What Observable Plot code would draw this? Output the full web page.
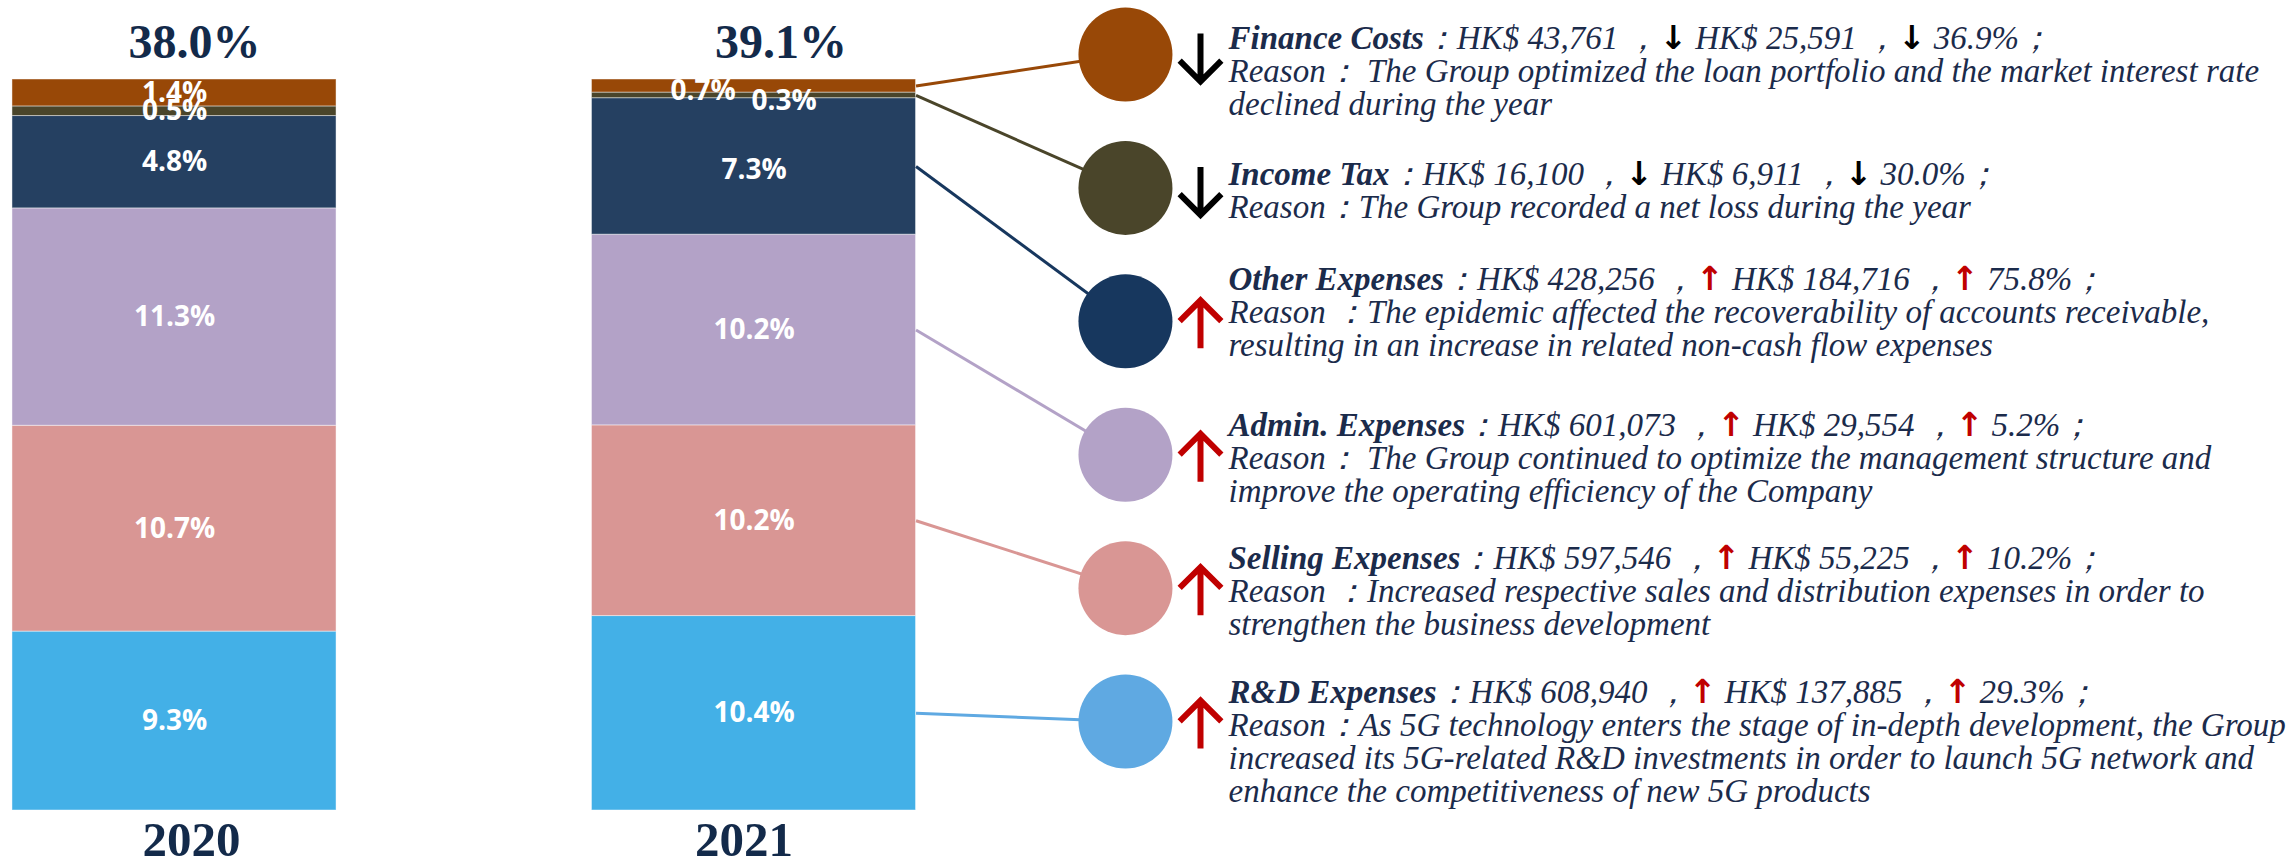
<!DOCTYPE html>
<html>
<head>
<meta charset="utf-8">
<script src="https://cdn.jsdelivr.net/npm/d3@7"></script>
<script src="https://cdn.jsdelivr.net/npm/@observablehq/plot@0.6"></script>
<style>
  html, body { margin: 0; padding: 0; background: #ffffff; }
  #chart { width: 2292px; height: 863px; overflow: hidden; }
  #chart svg text { white-space: pre; }
</style>
</head>
<body>
<div id="chart"></div>
<script>
// ---------------- DATA ----------------
const years = ["2020", "2021"];
const yearTotals = ["38.0%", "39.1%"];
// stacked from bottom to top
const categories = ["R&D Expenses", "Selling Expenses", "Admin. Expenses", "Other Expenses", "Income Tax", "Finance Costs"];
const share2020 = [9.3, 10.7, 11.3, 4.8, 0.5, 1.4];
const share2021 = [10.4, 10.2, 10.2, 7.3, 0.3, 0.7];

// annotation rows, top to bottom
const annotCategories = ["Finance Costs", "Income Tax", "Other Expenses", "Admin. Expenses", "Selling Expenses", "R&D Expenses"];
const amount2021 = ["43,761", "16,100", "428,256", "601,073", "597,546", "608,940"];
const changeAmount = ["25,591", "6,911", "184,716", "29,554", "55,225", "137,885"];
const changePct = ["36.9%", "30.0%", "75.8%", "5.2%", "10.2%", "29.3%"];
const direction = ["down", "down", "up", "up", "up", "up"];
const reasons = [
  "Reason： The Group optimized the loan portfolio and the market interest rate\ndeclined during the year",
  "Reason：The Group recorded a net loss during the year",
  "Reason ：The epidemic affected the recoverability of accounts receivable,\nresulting in an increase in related non-cash flow expenses",
  "Reason： The Group continued to optimize the management structure and\nimprove the operating efficiency of the Company",
  "Reason ：Increased respective sales and distribution expenses in order to\nstrengthen the business development",
  "Reason：As 5G technology enters the stage of in-depth development, the Group\nincreased its 5G-related R&D investments in order to launch 5G network and\nenhance the competitiveness of new 5G products"
];

// ---------------- STYLE ----------------
const barColors = {"R&D Expenses": "#43b0e7", "Selling Expenses": "#d99694", "Admin. Expenses": "#b3a2c7",
  "Other Expenses": "#254061", "Income Tax": "#4a452a", "Finance Costs": "#984807"};
const dotColors = {"R&D Expenses": "#5fa9e2", "Selling Expenses": "#d99694", "Admin. Expenses": "#b3a2c7",
  "Other Expenses": "#17375e", "Income Tax": "#4a452a", "Finance Costs": "#984807"};
const lineColors = {"R&D Expenses": "#5fa9e2", "Selling Expenses": "#d99694", "Admin. Expenses": "#b3a2c7",
  "Other Expenses": "#17375e", "Income Tax": "#4a452a", "Finance Costs": "#984807"};
const textColor = "#1b2b4b";
const headColor = "#132a4a";
const serif = "'Times New Roman', 'Liberation Serif', serif";
const sans = "'Segoe UI', 'Open Sans', 'Noto Sans', sans-serif";

// layout (in scale units: x slot 0 = 2020 bar, slot 1 = 2021 bar; y 0..1 = bar height)
const HALF = 0.2796;
const CIRCLE_X = 1.641;
const ARROW_X = 1.7705;
const TEXT_X = 1.8188;
const ROW_TOP = 1.0342, ROW_STEP = 0.1825;
const textDy = [-29, -26, -55, -42, -43, -42];
const headDx = [20, 27];
const yearDx = [17, -10];
const labelOffset = {"2021|Finance Costs": [-51, 5], "2021|Income Tax": [30, 6], "2021|Other Expenses": [0, 4]};

// ---------------- DERIVED ----------------
const segments = [];
years.forEach((yr, i) => {
  const vals = i === 0 ? share2020 : share2021;
  const total = d3.sum(vals);
  let cum = 0;
  categories.forEach((c, j) => {
    segments.push({year: yr, xi: i, category: c, value: vals[j],
      y1: cum / total, y2: (cum + vals[j]) / total});
    cum += vals[j];
  });
});
const rows = annotCategories.map((c, i) => ({
  i, category: c, y: ROW_TOP - i * ROW_STEP, up: direction[i] === "up"
}));
const links = segments.filter(d => d.year === "2021").map(d => {
  const r = rows.find(r => r.category === d.category);
  return {category: d.category, y1: (d.y1 + d.y2) / 2, y2: r.y};
});
const titleKey = i => "§" + i + "§";

const labelMarks = segments.map(d => {
  const off = labelOffset[d.year + "|" + d.category] || [0, 0];
  return Plot.text([d], {
    x: d => d.xi, y: d => (d.y1 + d.y2) / 2, text: d => d.value.toFixed(1) + "%",
    fill: "white", fontSize: 28, fontWeight: "bold", fontFamily: sans,
    dx: off[0], dy: off[1]
  });
});

const headMarks = years.map((yr, i) => [
  Plot.text([yr], {x: () => i, y: () => 1, text: () => yearTotals[i], dy: -37, dx: headDx[i],
    fontSize: 48, fontWeight: "bold", fontFamily: serif, fill: headColor}),
  Plot.text([yr], {x: () => i, y: () => 0, text: d => d, dy: 30, dx: yearDx[i],
    fontSize: 49, fontWeight: "bold", fontFamily: serif, fill: headColor})
]).flat();

const annotMarks = rows.map(r => Plot.text([r], {
  x: () => TEXT_X, y: d => d.y,
  text: d => titleKey(d.i) + "\n" + reasons[d.i],
  textAnchor: "start", lineAnchor: "top", dy: textDy[r.i], lineHeight: 1.0,
  fontSize: 33, fontStyle: "italic", fontFamily: serif, fill: textColor
}));

const svg = Plot.plot({
  width: 2292, height: 863,
  marginTop: 0, marginBottom: 0, marginLeft: 0, marginRight: 0,
  x: {type: "linear", domain: [0, 1], range: [174, 753.5], axis: null},
  y: {type: "linear", domain: [0, 1], range: [810, 79], axis: null},
  color: {type: "identity"},
  style: {background: "white", overflow: "visible"},
  marks: [
    Plot.rect(segments, {
      x1: d => d.xi - HALF, x2: d => d.xi + HALF, y1: "y1", y2: "y2",
      fill: d => barColors[d.category], stroke: "white", strokeOpacity: 0.45, strokeWidth: 1
    }),
    ...labelMarks,
    ...headMarks,
    Plot.link(links, {x1: () => 1 + HALF, x2: () => CIRCLE_X, y1: "y1", y2: "y2",
      stroke: d => lineColors[d.category], strokeWidth: 3}),
    Plot.dot(rows, {x: () => CIRCLE_X, y: "y", r: 47, fill: d => dotColors[d.category]}),
    Plot.vector(rows, {x: () => ARROW_X, y: "y", dy: 3, length: 48, r: 7.6,
      rotate: d => d.up ? 0 : 180, anchor: "middle",
      stroke: d => d.up ? "#c00000" : "#000000", strokeWidth: 6,
      strokeLinecap: "butt", strokeLinejoin: "miter"}),
    ...annotMarks
  ]
});

// rich formatting of the first line of each annotation
const allTspans = svg.querySelectorAll("text tspan");
rows.forEach(r => {
  const i = r.i;
  let node = null;
  allTspans.forEach(t => { if (t.textContent === titleKey(i)) node = t; });
  if (!node) {
    svg.querySelectorAll("text").forEach(t => { if (t.textContent.startsWith(titleKey(i))) node = t; });
  }
  if (!node) return;
  const first = d3.select(node);
  first.text(null);
  const arrow = r.up ? "↑" : "↓";
  const col = r.up ? "#c00000" : "#000000";
  const sep = " ，";
  first.append("tspan").attr("font-weight", "bold").text(annotCategories[i]);
  first.append("tspan").text("：HK$ " + amount2021[i] + sep);
  first.append("tspan").attr("fill", col).attr("font-family", "'DejaVu Sans', sans-serif")
    .attr("font-style", "normal").attr("font-weight", "bold").attr("font-size", 33).text(arrow);
  first.append("tspan").text(" HK$ " + changeAmount[i] + sep);
  first.append("tspan").attr("fill", col).attr("font-family", "'DejaVu Sans', sans-serif")
    .attr("font-style", "normal").attr("font-weight", "bold").attr("font-size", 33).text(arrow);
  first.append("tspan").text(" " + changePct[i] + "；");
});

document.getElementById("chart").appendChild(svg);
</script>
</body>
</html>
